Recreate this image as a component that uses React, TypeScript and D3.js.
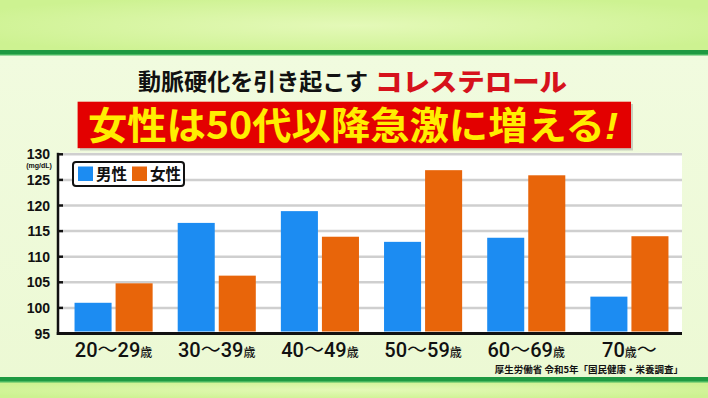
import React from 'react';
import * as d3 from 'd3';

const ageGroups = ['20〜29', '30〜39', '40〜49', '50〜59', '60〜69', '70〜'];
const seriesNames = ['男性', '女性'];
const maleValues = [101.0, 116.6, 118.9, 112.9, 113.7, 102.2];
const femaleValues = [104.8, 106.3, 113.9, 126.9, 125.9, 114.0];
const yTicks = [95, 100, 105, 110, 115, 120, 125, 130];

const W = 708;
const H = 398;
const COLORS = ['#1c8cf2', '#e8650a'];
const JP = '"Noto Sans CJK JP", "Noto Sans CJK SC", sans-serif';
const NUM = '"Liberation Sans", Arial, sans-serif';
const LBL = 'Roboto, "Liberation Sans", sans-serif';

export default function App() {
  const left = 58;
  const right = 682;
  const top = 154.3;
  const bottom = 333.5;

  const x0 = d3.scaleBand<string>()
    .domain(ageGroups)
    .range([62, 681])
    .paddingInner(0.243)
    .paddingOuter(0.1215);
  const x1 = d3.scaleBand<string>()
    .domain(seriesNames)
    .range([0, x0.bandwidth()])
    .paddingInner(0.0976);
  const y = d3.scaleLinear().domain([95, 130]).range([bottom, top]);

  const rows = ageGroups.map((g, i) => ({ group: g, values: [maleValues[i], femaleValues[i]] }));

  return (
    <div style={{ position: 'fixed', left: 0, top: 0 }}>
      <svg width={W} height={H} style={{ display: 'block' }}>
        <defs>
          <radialGradient id="band" cx="0.5" cy="0.5" r="0.6">
            <stop offset="0" stopColor="#e4f9b8" />
            <stop offset="1" stopColor="#cdf291" />
          </radialGradient>
          <linearGradient id="mid" x1="0" y1="0" x2="0" y2="1">
            <stop offset="0" stopColor="#f1fbdf" />
            <stop offset="1" stopColor="#ecf9d4" />
          </linearGradient>
        </defs>

        {/* background bands */}
        <rect x={0} y={0} width={W} height={51} fill="url(#band)" />
        <rect x={0} y={55} width={W} height={323} fill="url(#mid)" />
        <rect x={0} y={382} width={W} height={16} fill="url(#band)" />
        <rect x={0} y={50} width={W} height={4} fill="#1f9a42" />
        <rect x={0} y={54} width={W} height={1.5} fill="#49b860" />
        <rect x={0} y={377} width={W} height={4} fill="#1f9a42" />
        <rect x={0} y={381} width={W} height={1.5} fill="#49b860" />

        {/* titles */}
        <text x={138} y={90} fontFamily={JP} fontWeight={700} fontSize={22.5}
          textLength={230} lengthAdjust="spacingAndGlyphs" fill="#111">動脈硬化を引き起こす</text>
        <text x={375} y={90.5} fontFamily={JP} fontWeight={900} fontSize={25}
          textLength={192} lengthAdjust="spacingAndGlyphs" fill="#d6121c">コレステロール</text>

        <rect x={80} y={104} width={553} height={46.5} fill="#9a9a9a" opacity={0.45} />
        <rect x={77.6} y={101.7} width={553.4} height={46.5} fill="#e30000" />
        <text x={88} y={139} fontFamily={JP} fontWeight={700} fontSize={37.5}
          textLength={530} lengthAdjust="spacingAndGlyphs" fill="#ffee00">
          女性は50代以降急激に増える<tspan fontFamily={NUM} fontStyle="italic" fontWeight={700}>!</tspan>
        </text>

        {/* plot background */}
        <rect x={left} y={top - 1.5} width={right - left} height={bottom - top + 1.5} fill="#ffffff" />

        {/* grid + ticks */}
        {yTicks.filter(t => t > 95).map(t => (
          <g key={t}>
            <line x1={62} x2={right} y1={y(t)} y2={y(t)} stroke="#cfcfcf" strokeWidth={2.5} />
            <line x1={left - 1} x2={63} y1={y(t)} y2={y(t)} stroke="#111" strokeWidth={2.5} />
          </g>
        ))}
        {yTicks.map(t => (
          <text key={'l' + t} x={50} y={y(t)} dy="0.36em" textAnchor="end" fontFamily={NUM}
            fontWeight={700} fontSize={14} fill="#111">{t}</text>
        ))}
        <text x={39} y={167.5} textAnchor="middle" fontFamily={NUM} fontWeight={700} fontSize={7}
          fill="#111">(mg/dL)</text>

        {/* bars */}
        {rows.map(r => (
          <g key={r.group} transform={`translate(${x0(r.group)},0)`}>
            {r.values.map((v, j) => (
              <rect key={j} x={x1(seriesNames[j])} y={y(v)} width={x1.bandwidth()}
                height={y(95) - 2 - y(v)} fill={COLORS[j]} />
            ))}
          </g>
        ))}

        {/* axes */}
        <line x1={left} x2={left} y1={top - 1.5} y2={bottom + 1.5} stroke="#111" strokeWidth={2.5} />
        <line x1={left - 1.2} x2={right} y1={bottom} y2={bottom} stroke="#111" strokeWidth={3} />

        {/* legend */}
        <rect x={73} y={162} width={111} height={24} rx={3} fill="#ffffff" stroke="#111" strokeWidth={2} />
        {seriesNames.map((s, j) => (
          <g key={s} transform={`translate(${78 + j * 54},0)`}>
            <rect x={0} y={166.5} width={15} height={14.5} fill={COLORS[j]} />
            <text x={18} y={179.5} fontFamily={JP} fontWeight={700} fontSize={15.5} fill="#111">{s}</text>
          </g>
        ))}

        {/* x labels */}
        {ageGroups.map(g => {
          const cx = (x0(g) as number) + x0.bandwidth() / 2;
          const open = g.endsWith('〜');
          const parts = g.split('〜');
          return (
            <text key={g} x={cx} y={357} textAnchor="middle" fontFamily={LBL} fontSize={20}
              fontWeight={500} fill="#111">
              {open ? (
                <>
                  {parts[0]}<tspan fontFamily={JP} fontSize={12}>歳</tspan><tspan fontFamily={JP} fontWeight={400}>〜</tspan>
                </>
              ) : (
                <>
                  {parts[0]}<tspan fontFamily={JP} fontWeight={400}>〜</tspan>{parts[1]}
                  <tspan fontFamily={JP} fontSize={12}>歳</tspan>
                </>
              )}
            </text>
          );
        })}

        {/* source */}
        <text x={683} y={373} textAnchor="end" fontFamily={JP} fontWeight={700} fontSize={9.5}
          fill="#111">厚生労働省 令和5年「国民健康・栄養調査」</text>
      </svg>
    </div>
  );
}
